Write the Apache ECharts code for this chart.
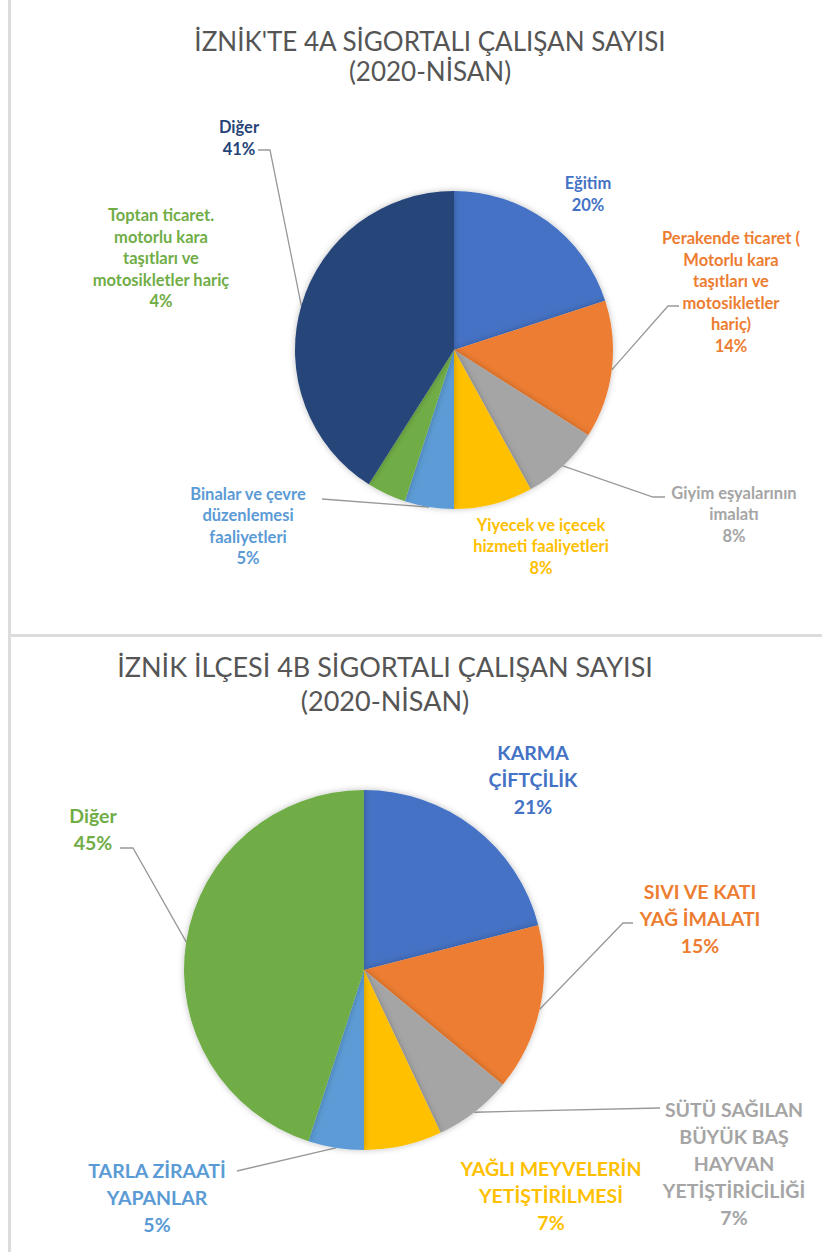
<!DOCTYPE html>
<html>
<head>
<meta charset="utf-8">
<title>İznik sigortalı çalışan sayısı</title>
<script src="https://cdn.jsdelivr.net/npm/echarts@6/dist/echarts.min.js"></script>
<style>
  html, body { margin: 0; padding: 0; background: #fff; }
  #chart { width: 822px; height: 1252px; }
</style>
</head>
<body>
<div id="chart"></div>
<script>
// 4A - üst grafik
const topCategories = [
  "Eğitim",
  "Perakende ticaret (\nMotorlu kara\ntaşıtları ve\nmotosikletler\nhariç)",
  "Giyim eşyalarının\nimalatı",
  "Yiyecek ve içecek\nhizmeti faaliyetleri",
  "Binalar ve çevre\ndüzenlemesi\nfaaliyetleri",
  "Toptan ticaret.\nmotorlu kara\ntaşıtları ve\nmotosikletler hariç",
  "Diğer"
];
const topValues = [20, 14, 8, 8, 5, 4, 41];
const topColors = ["#4472C4", "#ED7D31", "#A5A5A5", "#FFC000", "#5B9BD5", "#70AD47", "#264478"];

// 4B - alt grafik
const bottomCategories = [
  "KARMA\nÇİFTÇİLİK",
  "SIVI VE KATI\nYAĞ İMALATI",
  "SÜTÜ SAĞILAN\nBÜYÜK BAŞ\nHAYVAN\nYETİŞTİRİCİLİĞİ",
  "YAĞLI MEYVELERİN\nYETİŞTİRİLMESİ",
  "TARLA ZİRAATİ\nYAPANLAR",
  "Diğer"
];
const bottomValues = [21, 15, 7, 7, 5, 45];
const bottomColors = ["#4472C4", "#ED7D31", "#A5A5A5", "#FFC000", "#5B9BD5", "#70AD47"];

// etiket yerleşimi (merkez x,y) ve kılavuz çizgi noktaları
const topLabelPos = [[588, 194], [731, 292], [734, 514], [541, 546], [248, 526], [161, 258], [239, 138]];
const topLines = [null, [[668, 306], [679, 306]], [[653, 497], [665, 497]], null, [[322, 499]], null, [[270, 150], [258, 150]]];
const bottomLabelPos = [[533, 779], [700, 918], [734, 1163], [551, 1195], [157, 1197], [93, 829]];
const bottomLines = [null, [[623, 923], [633, 923]], [[660, 1108]], null, [[237, 1171]], [[133, 848], [120, 848]]];

const FONT = "Lato, 'Open Sans', sans-serif";

const chart = echarts.init(document.getElementById("chart"), null, { renderer: "svg" });

function buildData(names, values, colors, lines) {
  return names.map((n, i) => ({
    name: n,
    value: values[i],
    itemStyle: { color: colors[i] },
    label: { color: colors[i] },
    labelLine: { show: !!lines[i] }
  }));
}

function layoutFn(pos, lines) {
  return function (p) {
    const i = p.dataIndex;
    const r = { x: pos[i][0], y: pos[i][1], align: "center", verticalAlign: "middle" };
    if (lines[i] && p.labelLinePoints) {
      const pts = [p.labelLinePoints[0]].concat(lines[i]);
      if (pts.length < 3) pts.push(pts[pts.length - 1]);
      r.labelLinePoints = pts;
    }
    return r;
  };
}

chart.setOption({
  backgroundColor: "#fff",
  animation: false,
  title: [
    {
      text: "İZNİK'TE 4A SİGORTALI ÇALIŞAN SAYISI\n(2020-NİSAN)",
      left: 425,
      top: 21,
      textAlign: "center",
      textStyle: { fontFamily: FONT, fontSize: 26, fontWeight: "normal", color: "#555555", lineHeight: 30 }
    },
    {
      text: "İZNİK İLÇESİ 4B SİGORTALI ÇALIŞAN SAYISI\n(2020-NİSAN)",
      left: 380,
      top: 644,
      textAlign: "center",
      textStyle: { fontFamily: FONT, fontSize: 27, fontWeight: "normal", color: "#555555", lineHeight: 34 }
    }
  ],
  graphic: [
    { type: "rect", shape: { x: 8, y: 0, width: 3, height: 1252 }, style: { fill: "#dcdcdc" }, silent: true },
    { type: "rect", shape: { x: 8, y: 634, width: 814, height: 3 }, style: { fill: "#dcdcdc" }, silent: true }
  ],
  series: [
    {
      type: "pie",
      center: [454, 350],
      radius: 159,
      startAngle: 90,
      clockwise: true,
      avoidLabelOverlap: false,
      data: buildData(topCategories, topValues, topColors, topLines),
      itemStyle: { shadowBlur: 6, shadowColor: "rgba(0,0,0,0.25)" },
      label: {
        position: "outside",
        fontFamily: FONT,
        fontWeight: "bold",
        fontSize: 16.5,
        lineHeight: 21.5,
        formatter: (p) => p.name + "\n" + Math.round(p.percent) + "%"
      },
      labelLine: { smooth: false, lineStyle: { color: "#999999", width: 1.3 } },
      labelLayout: layoutFn(topLabelPos, topLines)
    },
    {
      type: "pie",
      center: [364, 970],
      radius: 180,
      startAngle: 90,
      clockwise: true,
      avoidLabelOverlap: false,
      data: buildData(bottomCategories, bottomValues, bottomColors, bottomLines),
      itemStyle: { shadowBlur: 6, shadowColor: "rgba(0,0,0,0.25)" },
      label: {
        position: "outside",
        fontFamily: FONT,
        fontWeight: "bold",
        fontSize: 19.5,
        lineHeight: 27,
        formatter: (p) => p.name + "\n" + Math.round(p.percent) + "%"
      },
      labelLine: { smooth: false, lineStyle: { color: "#999999", width: 1.3 } },
      labelLayout: layoutFn(bottomLabelPos, bottomLines)
    }
  ]
});
</script>
</body>
</html>
